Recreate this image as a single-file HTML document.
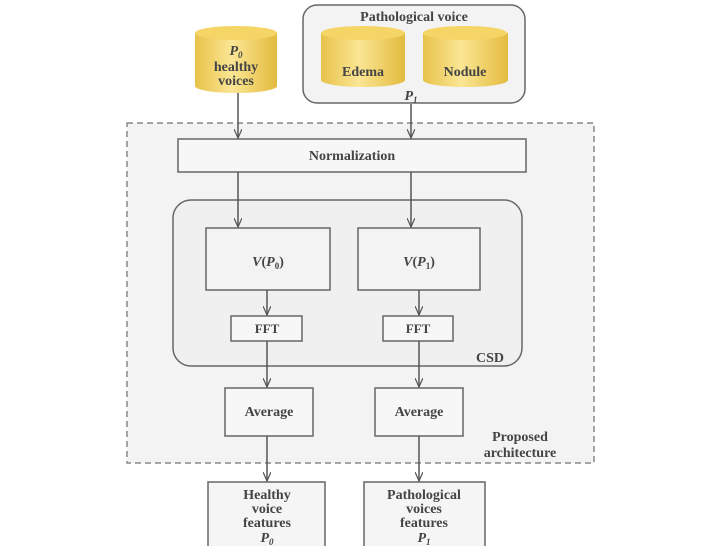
<!DOCTYPE html>
<html><head><style>
html,body{margin:0;padding:0;background:#fff;}
svg{display:block;}
text{font-family:"Liberation Serif",serif;font-weight:bold;fill:#444;}
</style></head><body>
<svg width="705" height="546" viewBox="0 0 705 546" xmlns="http://www.w3.org/2000/svg">
<defs>
<linearGradient id="cyl" x1="0" x2="1" y1="0" y2="0">
<stop offset="0" stop-color="#e8c24a"/><stop offset="0.45" stop-color="#fbe694"/><stop offset="1" stop-color="#e3bb3e"/>
</linearGradient>
<marker id="ar" markerWidth="10" markerHeight="8" refX="9" refY="4" orient="auto" markerUnits="userSpaceOnUse">
<path d="M0,0 L9,4 L0,8" fill="none" stroke="#555" stroke-width="1.2"/>
</marker>
</defs>
<g stroke="#666" stroke-width="1.5">
<rect x="127" y="123" width="467" height="340" fill="#f3f3f3" stroke="#888" stroke-dasharray="6,4"/>
<rect x="303" y="5" width="222" height="98" rx="14" fill="#f3f3f3"/>
<!-- cylinders -->
<path d="M195,33 L195,86 A41,7 0 0 0 277,86 L277,33" fill="url(#cyl)" stroke="none"/>
<ellipse cx="236" cy="33" rx="41" ry="7" fill="#f6d567" stroke="none"/>
<path d="M321,33 L321,80 A42,7 0 0 0 405,80 L405,33" fill="url(#cyl)" stroke="none"/>
<ellipse cx="363" cy="33" rx="42" ry="7" fill="#f6d567" stroke="none"/>
<path d="M423,33 L423,80 A42,7 0 0 0 508,80 L508,33" fill="url(#cyl)" stroke="none"/>
<ellipse cx="465" cy="33" rx="42" ry="7" fill="#f6d567" stroke="none"/>
<rect x="178" y="139" width="348" height="33" fill="#f7f7f7"/>
<rect x="173" y="200" width="349" height="166" rx="18" fill="#f0f0f0"/>
<rect x="206" y="228" width="124" height="62" fill="#f3f3f3"/>
<rect x="358" y="228" width="122" height="62" fill="#f3f3f3"/>
<rect x="231" y="316" width="71" height="25" fill="#f7f7f7"/>
<rect x="383" y="316" width="70" height="25" fill="#f7f7f7"/>
<rect x="225" y="388" width="88" height="48" fill="#f7f7f7"/>
<rect x="375" y="388" width="88" height="48" fill="#f7f7f7"/>
<rect x="208" y="482" width="117" height="66" fill="#f5f5f5"/>
<rect x="364" y="482" width="121" height="66" fill="#f5f5f5"/>
</g>
<g stroke="#555" stroke-width="1.5" marker-end="url(#ar)">
<line x1="238" y1="93" x2="238" y2="138"/>
<line x1="411" y1="104" x2="411" y2="138"/>
<line x1="238" y1="172" x2="238" y2="227"/>
<line x1="411" y1="172" x2="411" y2="227"/>
<line x1="267" y1="290" x2="267" y2="315"/>
<line x1="419" y1="290" x2="419" y2="315"/>
<line x1="267" y1="341" x2="267" y2="387"/>
<line x1="419" y1="341" x2="419" y2="387"/>
<line x1="267" y1="436" x2="267" y2="481"/>
<line x1="419" y1="436" x2="419" y2="481"/>
</g>
<g font-size="14" text-anchor="middle">
<text x="414" y="21">Pathological voice</text>
<text x="236" y="55" font-style="italic">P<tspan font-size="9" dy="3">0</tspan></text>
<text x="236" y="71">healthy</text>
<text x="236" y="85">voices</text>
<text x="363" y="76">Edema</text>
<text x="465" y="76">Nodule</text>
<text x="411" y="100" font-style="italic">P<tspan font-size="9" dy="3">1</tspan></text>
<text x="352" y="160">Normalization</text>
<text x="268" y="266"><tspan font-style="italic">V</tspan>(<tspan font-style="italic">P</tspan><tspan font-size="9" dy="3">0</tspan><tspan dy="-3">)</tspan></text>
<text x="419" y="266"><tspan font-style="italic">V</tspan>(<tspan font-style="italic">P</tspan><tspan font-size="9" dy="3">1</tspan><tspan dy="-3">)</tspan></text>
<text x="267" y="333" font-size="13">FFT</text>
<text x="418" y="333" font-size="13">FFT</text>
<text x="490" y="362">CSD</text>
<text x="269" y="416">Average</text>
<text x="419" y="416">Average</text>
<text x="520" y="441">Proposed</text>
<text x="520" y="457">architecture</text>
<text x="267" y="499">Healthy</text>
<text x="267" y="513">voice</text>
<text x="267" y="527">features</text>
<text x="267" y="542" font-style="italic">P<tspan font-size="9" dy="3">0</tspan></text>
<text x="424" y="499">Pathological</text>
<text x="424" y="513">voices</text>
<text x="424" y="527">features</text>
<text x="424" y="542" font-style="italic">P<tspan font-size="9" dy="3">1</tspan></text>
</g>
</svg>
</body></html>
